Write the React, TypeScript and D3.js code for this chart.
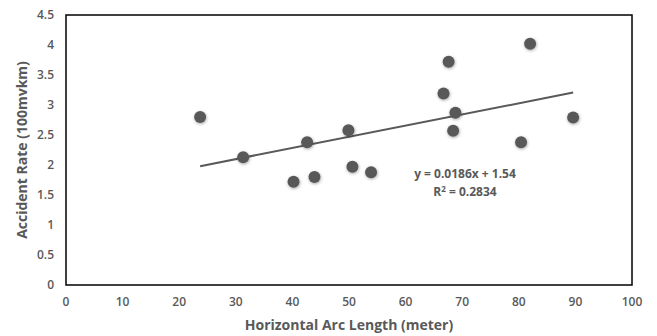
import React from 'react'
import * as d3 from 'd3'

const arcLength = [23.7, 31.3, 40.2, 43.9, 42.6, 49.9, 50.6, 53.9, 66.7, 67.6, 68.8, 68.4, 80.4, 82.0, 89.6]
const accidentRate = [2.8, 2.13, 1.72, 1.8, 2.38, 2.58, 1.97, 1.88, 3.19, 3.72, 2.87, 2.57, 2.38, 4.02, 2.79]
const xTicks = [0, 10, 20, 30, 40, 50, 60, 70, 80, 90, 100]
const yTicks = [0, 0.5, 1, 1.5, 2, 2.5, 3, 3.5, 4, 4.5]
const slope = 0.0186
const intercept = 1.54
const equationText = 'y = 0.0186x + 1.54'
const r2Value = '0.2834'

const width = 657
const height = 336
const margin = { top: 15, right: 25, bottom: 51, left: 66 }
const font = "'Open Sans', 'Liberation Sans', sans-serif"
const grey = '#595959'

export default function App() {
  const x = d3.scaleLinear().domain([0, 100]).range([margin.left, width - margin.right])
  const y = d3.scaleLinear().domain([0, 4.5]).range([height - margin.bottom, margin.top])

  const points = arcLength.map((v, i) => ({ x: v, y: accidentRate[i] }))
  const [minX, maxX] = d3.extent(arcLength) as [number, number]
  const trend = d3.line<number>()
    .x(d => x(d))
    .y(d => y(slope * d + intercept))([minX, maxX])

  return (
    <svg width={width} height={height} style={{ position: 'absolute', left: 0, top: 0, fontFamily: font }}>
      <defs>
        <filter id="shadow" x="-50%" y="-50%" width="200%" height="200%">
          <feDropShadow dx="0.5" dy="1" stdDeviation="1.5" floodColor="#000" floodOpacity="0.35" />
        </filter>
      </defs>
      <rect width={width} height={height} fill="#fff" />
      <rect
        x={x(0)} y={y(4.5)}
        width={x(100) - x(0)} height={y(0) - y(4.5)}
        fill="none" stroke="#000" strokeWidth={1.5}
      />

      {yTicks.map(t => (
        <text key={t} x={x(0) - 12} y={y(t)} dy="0.35em" textAnchor="end" fontSize={12} fontWeight={600} fill={grey}>{t}</text>
      ))}
      {xTicks.map(t => (
        <text key={t} x={x(t)} y={y(0) + 17} dy="0.35em" textAnchor="middle" fontSize={12} fontWeight={600} fill={grey}>{t}</text>
      ))}

      <path d={trend ?? ''} fill="none" stroke={grey} strokeWidth={2} />

      {points.map((p, i) => (
        <circle key={i} cx={x(p.x)} cy={y(p.y)} r={6} fill={grey} filter="url(#shadow)" />
      ))}

      <text x={465} y={174} dy="0.35em" textAnchor="middle" fontSize={12} fontWeight="bold" fill={grey}>{equationText}</text>
      <text x={465} y={192} dy="0.35em" textAnchor="middle" fontSize={12} fontWeight="bold" fill={grey}>
        R<tspan dy="-4" fontSize={8}>2</tspan><tspan dy="4"> = {r2Value}</tspan>
      </text>

      <text
        transform={`translate(22, ${(y(0) + y(4.5)) / 2}) rotate(-90)`}
        textAnchor="middle" dy="0.35em" fontSize={14} fontWeight="bold" fill={grey}
      >Accident Rate (100mvkm)</text>
      <text x={(x(0) + x(100)) / 2} y={325} textAnchor="middle" dy="0.35em" fontSize={14} fontWeight="bold" fill={grey}>
        Horizontal Arc Length (meter)
      </text>
    </svg>
  )
}
